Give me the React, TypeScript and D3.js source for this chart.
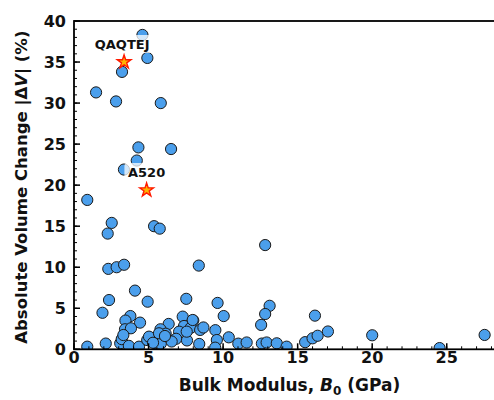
import * as d3 from "d3";
import React from "react";

// bulk modulus (GPa) and absolute volume change (%)
const bulkModulus = [
  4.59, 4.92, 3.22, 1.48, 2.82, 5.82, 4.32, 6.51, 4.21, 3.35,
  0.89, 2.53, 2.26, 5.37, 5.75, 12.82, 2.3, 2.86, 3.36, 8.37,
  4.09, 2.35, 4.94, 7.53, 1.91, 3.78, 3.45, 4.43, 3.42, 3.82,
  9.63, 13.12, 12.82, 12.55, 16.16, 7.29, 10.04, 6.35, 5.8, 6.15,
  7.38, 8.0, 7.83, 8.46, 8.68, 7.05, 6.85, 7.58, 9.48, 9.58,
  10.38, 11.02, 11.58, 12.6, 12.92, 13.6, 14.26, 15.5, 16.0, 16.34,
  17.03, 20.0, 24.52, 27.54, 0.89, 2.13, 3.1, 3.2, 3.68, 4.36,
  4.91, 5.03, 5.45, 5.82, 8.4, 9.47, 3.31, 5.3, 6.55, 5.7,
  7.96, 7.56, 6.1,
];
const volumeChange = [
  38.3, 35.5, 33.8, 31.3, 30.2, 30.0, 24.6, 24.4, 23.0, 21.9,
  18.2, 15.4, 14.1, 15.0, 14.7, 12.7, 9.8, 10.0, 10.3, 10.2,
  7.15, 6.0, 5.8, 6.15, 4.45, 4.05, 3.5, 3.25, 2.44, 2.56,
  5.65, 5.3, 4.3, 2.97, 4.1, 3.98, 4.05, 3.09, 2.44, 1.9,
  2.84, 3.5, 2.62, 2.36, 2.66, 2.15, 1.28, 1.08, 2.33, 1.13,
  1.46, 0.69, 0.83, 0.7, 0.83, 0.73, 0.32, 0.87, 1.34, 1.65,
  2.17, 1.71, 0.15, 1.75, 0.32, 0.7, 0.73, 1.24, 0.42, 0.32,
  1.13, 1.54, 0.75, 0.68, 0.65, 0.2, 1.74, 0.8, 0.95, 1.95,
  3.57, 2.15, 1.62,
];

const highlightNames = ["QAQTEJ", "A520"];
const highlightX = [3.36, 4.87];
const highlightY = [35.0, 19.4];

const xTicks = [0, 5, 10, 15, 20, 25];
const yTicks = [0, 5, 10, 15, 20, 25, 30, 35, 40];

const W = 494;
const H = 400;
const FONT = "'DejaVu Sans', sans-serif";

export default function App() {
  const left = 74;
  const top = 21;
  const bottom = 349.3;

  const x = d3.scaleLinear().domain([0, 28.5]).range([left, left + 28.5 * 14.91]);
  const y = d3.scaleLinear().domain([0, 40]).range([bottom, top]);

  const minorX = d3.range(0, 29, 1);
  const minorY = d3.range(0, 41, 1);

  const star = d3.symbol().type(d3.symbolStar).size(58)();

  return (
    <svg
      width={W}
      height={H}
      style={{ position: "absolute", left: 0, top: 0, background: "#fff" }}
      fontFamily={FONT}
    >
      <defs>
        <clipPath id="plot">
          <rect x={left} y={top} width={W - left} height={bottom - top} />
        </clipPath>
      </defs>

      <g clipPath="url(#plot)">
        {bulkModulus.map((b, i) => (
          <circle
            key={i}
            cx={x(b)}
            cy={y(volumeChange[i])}
            r={5.6}
            fill="#4b9fec"
            stroke="#1a1a1a"
            strokeWidth={1}
          />
        ))}
        {highlightX.map((b, i) => (
          <path
            key={i}
            d={star}
            transform={`translate(${x(b)},${y(highlightY[i])})`}
            fill="#ffb300"
            stroke="#ff1a00"
            strokeWidth={1.4}
          />
        ))}
      </g>

      {highlightNames.map((name, i) => {
        const cx = x(highlightX[i]) - (i === 0 ? 2 : 0);
        const cy = y(highlightY[i]) - 18;
        const w = name.length * 9.6 + 6;
        return (
          <g key={name}>
            <rect
              x={cx - w / 2}
              y={cy - 9}
              width={w}
              height={18}
              rx={3}
              fill="#fff"
              fillOpacity={0.75}
            />
            <text
              x={cx}
              y={cy}
              textAnchor="middle"
              dominantBaseline="central"
              fontSize={13}
              fontWeight="bold"
              fill="#111"
            >
              {name}
            </text>
          </g>
        );
      })}

      {/* minor ticks */}
      {minorX.map((t) => (
        <line key={"mx" + t} x1={x(t)} x2={x(t)} y1={bottom} y2={bottom - 3} stroke="#000" strokeWidth={1} />
      ))}
      {minorY.map((t) => (
        <line key={"my" + t} x1={left} x2={left + 3} y1={y(t)} y2={y(t)} stroke="#000" strokeWidth={1} />
      ))}
      {/* major ticks */}
      {xTicks.map((t) => (
        <g key={"x" + t}>
          <line x1={x(t)} x2={x(t)} y1={bottom} y2={bottom - 6} stroke="#000" strokeWidth={1.5} />
          <text x={x(t)} y={363} textAnchor="middle" fontSize={16} fontWeight="bold" fill="#111">
            {t}
          </text>
        </g>
      ))}
      {yTicks.map((t) => (
        <g key={"y" + t}>
          <line x1={left} x2={left + 6} y1={y(t)} y2={y(t)} stroke="#000" strokeWidth={1.5} />
          <text
            x={66}
            y={y(t)}
            textAnchor="end"
            dominantBaseline="central"
            fontSize={16}
            fontWeight="bold"
            fill="#111"
          >
            {t}
          </text>
        </g>
      ))}

      {/* spines */}
      <rect
        x={left}
        y={top}
        width={x(28.5) - left}
        height={bottom - top}
        fill="none"
        stroke="#000"
        strokeWidth={1.8}
      />

      <text x={(180 + 399) / 2} y={391} textAnchor="middle" fontSize={17} fontWeight="bold" fill="#111">
        Bulk Modulus, <tspan fontStyle="italic">B</tspan>
        <tspan fontSize={12} dy={3.5}>0</tspan>
        <tspan dy={-3.5}> (GPa)</tspan>
      </text>

      <text
        transform={`translate(21,${(top + bottom) / 2 + 2}) rotate(-90)`}
        textAnchor="middle"
        dominantBaseline="central"
        fontSize={16.5}
        fontWeight="bold"
        fill="#111"
      >
        Absolute Volume Change |Δ<tspan fontStyle="italic">V</tspan>| (%)
      </text>
    </svg>
  );
}
